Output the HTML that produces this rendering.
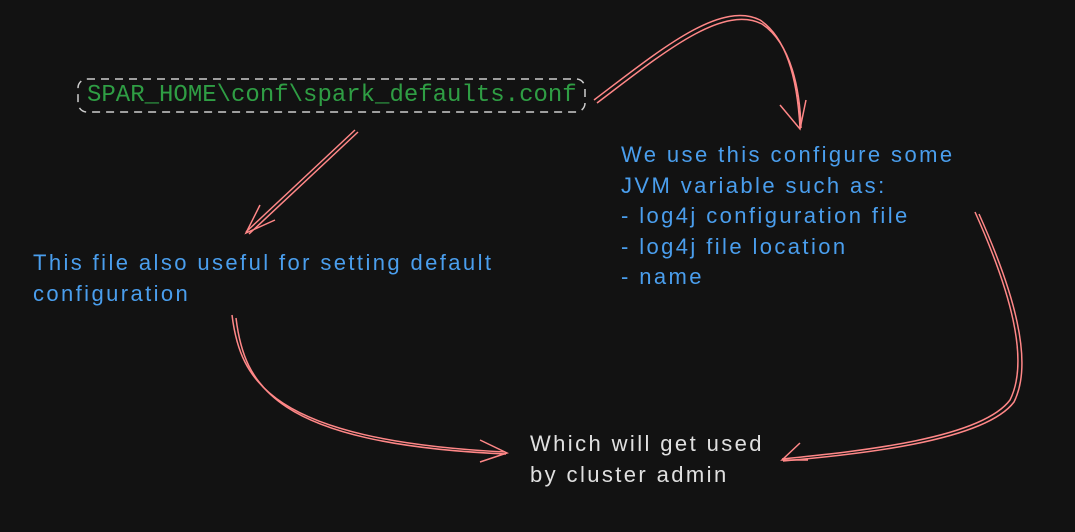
<!DOCTYPE html>
<html><head><style>
html,body{margin:0;padding:0;background:#121212;width:1075px;height:532px;overflow:hidden;position:relative}
.t{position:absolute;font-family:"Liberation Sans","DejaVu Sans",sans-serif;font-size:22px;line-height:30.5px;white-space:pre;color:#4a9eed;letter-spacing:2.4px}
</style></head><body>
<svg width="1075" height="532" style="position:absolute;left:0;top:0">
<rect x="78" y="79" width="507" height="33" rx="9" fill="none" stroke="#ccc" stroke-width="1.5" stroke-dasharray="8 6"/>
<g fill="none" stroke="#ff8787" stroke-width="1.5">
<path d="M594 100 C660 50,720 0,760 20 C790 40,798 90,800 128"/>
<path d="M597 103 C663 53,722 4,762 24 C792 44,800 92,801 128"/>
<path d="M780 105 L800 129 L806 100"/>
<path d="M355 130 L246 232"/><path d="M358 132 L249 234"/>
<path d="M260 205 L246 233 L275 220"/>
<path d="M232 315 C240 380,270 440,505 452"/><path d="M236 318 C244 384,273 444,506 454"/>
<path d="M480 440 L507 453 L480 462"/>
<path d="M975 212 C1010 290,1030 360,1010 400 C980 440,850 452,782 459"/>
<path d="M979 214 C1014 292,1034 362,1014 402 C984 442,852 455,783 461"/>
<path d="M800 443 L782 460 L808 460"/>
</g>
</svg>
<div style="position:absolute;left:87px;top:80px;font-family:'Liberation Mono',monospace;font-size:24px;line-height:32px;color:#2f9e44">SPAR_HOME\conf\spark_defaults.conf</div>
<div class="t" style="left:621px;top:140px">We use this configure some
JVM variable such as:
- log4j configuration file
- log4j file location
- name</div>
<div class="t" style="left:33px;top:248px">This file also useful for setting default
configuration</div>
<div class="t" style="left:530px;top:429px;color:#e0e0e0">Which will get used
by cluster admin</div>
</body></html>
